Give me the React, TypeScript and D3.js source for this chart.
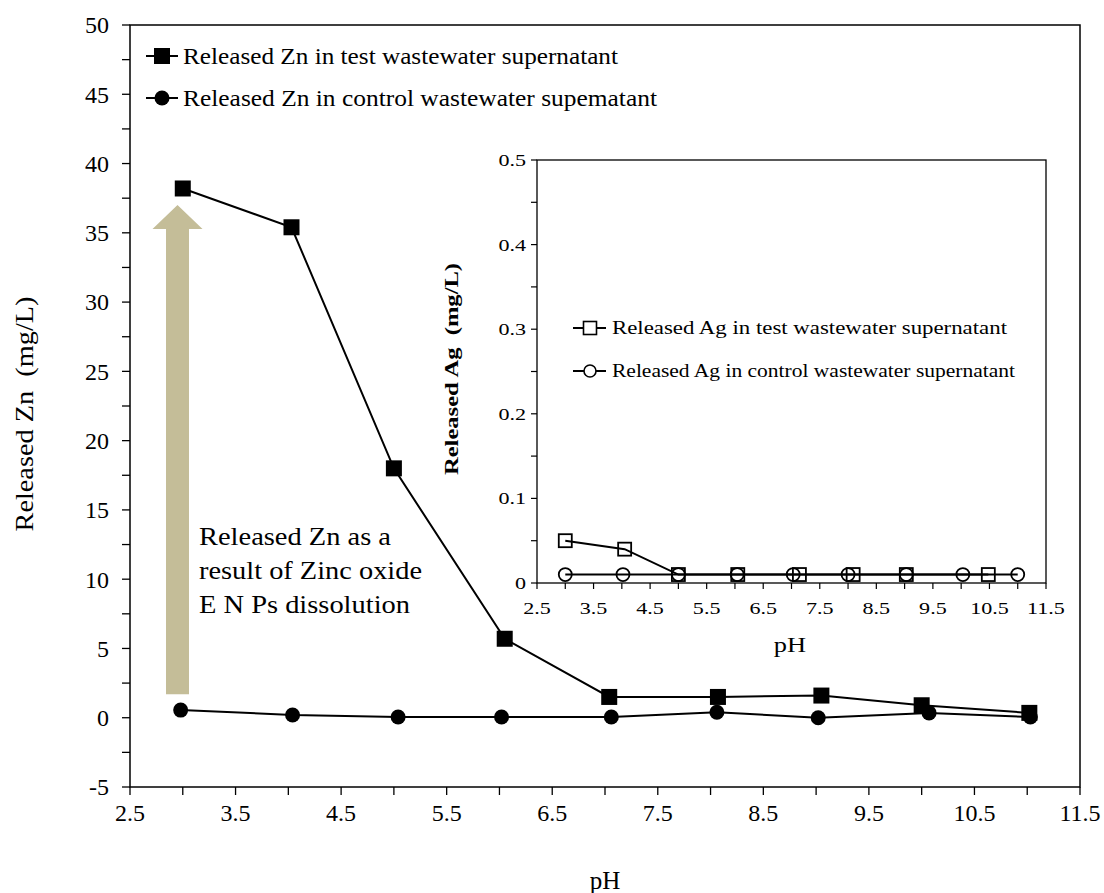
import React from "react";
import * as d3 from "d3";

// ---------- data ----------
const zincTestPH = [3.0, 4.03, 5.0, 6.05, 7.04, 8.07, 9.05, 10.0, 11.02];
const zincTest = [38.2, 35.4, 18.0, 5.7, 1.5, 1.5, 1.6, 0.9, 0.35];
const zincCtrlPH = [2.98, 4.04, 5.04, 6.02, 7.06, 8.06, 9.02, 10.07, 11.03];
const zincCtrl = [0.55, 0.2, 0.05, 0.05, 0.05, 0.4, 0.0, 0.35, 0.05];

const agTestPH = [3.0, 4.05, 5.0, 6.05, 7.14, 8.09, 9.03, 10.48];
const agTest = [0.05, 0.04, 0.01, 0.01, 0.01, 0.01, 0.01, 0.01];
const agCtrlPH = [3.0, 4.02, 5.0, 6.04, 7.03, 8.0, 9.03, 10.03, 11.0];
const agCtrl = [0.01, 0.01, 0.01, 0.01, 0.01, 0.01, 0.01, 0.01, 0.01];

const xTicks = [2.5, 3.5, 4.5, 5.5, 6.5, 7.5, 8.5, 9.5, 10.5, 11.5];
const zincYTicks = [-5, 0, 5, 10, 15, 20, 25, 30, 35, 40, 45, 50];
const agYTicks = [0, 0.1, 0.2, 0.3, 0.4, 0.5];

const legendMain = [
  "Released Zn in test wastewater supernatant",
  "Released Zn in control wastewater supematant",
];
const legendInset = [
  "Released Ag in test wastewater supernatant",
  "Released Ag in control wastewater supernatant",
];
const annotationLines = ["Released Zn as a", "result of Zinc oxide", "E N Ps dissolution"];
const arrowSpan = { ph: 2.95, from: 1.7, to: 37 };

const FONT = "'Liberation Serif', 'Times New Roman', serif";
const ARROW = "#c4bd98";

const legendMainW = [435, 474];
const legendInsetW = [395, 403];
const annotationW = [192, 223, 211];

export default function App() {
  // main plot
  const L = 130, R = 1080, T = 25, B = 787;
  const x = d3.scaleLinear().domain([2.5, 11.5]).range([L, R]);
  const y = d3.scaleLinear().domain([-5, 50]).range([B, T]);

  // inset
  const iL = 537, iR = 1046, iT = 160, iB = 583;
  const ix = d3.scaleLinear().domain([2.5, 11.5]).range([iL, iR]);
  const iy = d3.scaleLinear().domain([0, 0.5]).range([iB, iT]);

  const line = d3.line();
  const testPts: [number, number][] = zincTestPH.map((p, i) => [x(p), y(zincTest[i])]);
  const ctrlPts: [number, number][] = zincCtrlPH.map((p, i) => [x(p), y(zincCtrl[i])]);
  const agTestPts: [number, number][] = agTestPH.map((p, i) => [ix(p), iy(agTest[i])]);
  const agCtrlPts: [number, number][] = agCtrlPH.map((p, i) => [ix(p), iy(agCtrl[i])]);

  const minorY = d3.range(-5, 50.01, 2.5);
  const minorX = d3.range(2.5, 11.51, 0.5);
  const iMinorY = d3.range(0, 0.5001, 0.05);

  // arrow geometry from data scales
  const ax = x(arrowSpan.ph);
  const aBot = y(arrowSpan.from);
  const aTip = y(arrowSpan.to);
  const shaftHalf = 11.5;
  const headHalf = 25;
  const headLen = 24;
  const arrowPath = `M${ax - shaftHalf},${aBot} L${ax - shaftHalf},${aTip + headLen} L${ax - headHalf},${aTip + headLen} L${ax},${aTip} L${ax + headHalf},${aTip + headLen} L${ax + shaftHalf},${aTip + headLen} L${ax + shaftHalf},${aBot} Z`;

  const SQ = 16;
  const iSQ = 13;

  return (
    <svg width={1104} height={893} style={{ display: "block", position: "absolute", left: 0, top: 0, background: "#fff" }} fontFamily={FONT}>
      <rect x={0} y={0} width={1104} height={893} fill="#fff" />
      {/* main frame */}
      <rect x={L} y={T} width={R - L} height={B - T} fill="none" stroke="#000" strokeWidth={1.5} />
      {/* y ticks */}
      {minorY.map((v) => (
        <line key={"my" + v} x1={L - 8} x2={L} y1={y(v)} y2={y(v)} stroke="#000" strokeWidth={1.3} />
      ))}
      {zincYTicks.map((v) => (
        <text key={"yt" + v} x={L - 21} y={y(v)} dy="0.35em" textAnchor="end" fontSize={24}>
          {v}
        </text>
      ))}
      {/* x ticks */}
      {minorX.map((v) => (
        <line key={"mx" + v} x1={x(v)} x2={x(v)} y1={B} y2={B + 8} stroke="#000" strokeWidth={1.3} />
      ))}
      {xTicks.map((v) => (
        <text key={"xt" + v} x={x(v)} y={B + 34} textAnchor="middle" fontSize={24}>
          {v.toFixed(1)}
        </text>
      ))}
      {/* axis titles */}
      <text x={605} y={889} textAnchor="middle" fontSize={25}>pH</text>
      <text transform={`translate(33,414) rotate(-90)`} textAnchor="middle" fontSize={25} xmlSpace="preserve" textLength={235} lengthAdjust="spacingAndGlyphs">
        Released Zn  (mg/L)
      </text>

      {/* arrow */}
      <path d={arrowPath} fill={ARROW} />
      {annotationLines.map((t, i) => (
        <text key={t} x={199} y={545 + i * 34} fontSize={25} textLength={annotationW[i]} lengthAdjust="spacingAndGlyphs">
          {t}
        </text>
      ))}

      {/* series */}
      <path d={line(testPts) || ""} fill="none" stroke="#000" strokeWidth={2} />
      <path d={line(ctrlPts) || ""} fill="none" stroke="#000" strokeWidth={2} />
      {testPts.map(([px, py], i) => (
        <rect key={"ts" + i} x={px - SQ / 2} y={py - SQ / 2} width={SQ} height={SQ} fill="#000" />
      ))}
      {ctrlPts.map(([px, py], i) => (
        <circle key={"cc" + i} cx={px} cy={py} r={7.5} fill="#000" />
      ))}

      {/* main legend */}
      {legendMain.map((t, i) => {
        const ly = 56 + i * 42;
        return (
          <g key={t}>
            <line x1={146} x2={178} y1={ly} y2={ly} stroke="#000" strokeWidth={2} />
            {i === 0 ? (
              <rect x={162 - SQ / 2} y={ly - SQ / 2} width={SQ} height={SQ} fill="#000" />
            ) : (
              <circle cx={162} cy={ly} r={7.5} fill="#000" />
            )}
            <text x={183} y={ly} dy="0.33em" fontSize={24} textLength={legendMainW[i]} lengthAdjust="spacingAndGlyphs">
              {t}
            </text>
          </g>
        );
      })}

      {/* inset */}
      <rect x={iL} y={iT} width={iR - iL} height={iB - iT} fill="#fff" stroke="#000" strokeWidth={1.3} />
      {iMinorY.map((v) => (
        <line key={"imy" + v} x1={iL - 6} x2={iL} y1={iy(v)} y2={iy(v)} stroke="#000" strokeWidth={1.2} />
      ))}
      {agYTicks.map((v) => (
        <text key={"iyt" + v} transform={`translate(${iL - 11},${iy(v)}) scale(1.3,1)`} dy="0.35em" textAnchor="end" fontSize={17}>
          {v}
        </text>
      ))}
      {minorX.map((v) => (
        <line key={"imx" + v} x1={ix(v)} x2={ix(v)} y1={iB} y2={iB + 6} stroke="#000" strokeWidth={1.2} />
      ))}
      {xTicks.map((v) => (
        <text key={"ixt" + v} transform={`translate(${ix(v)},${iB + 31}) scale(1.3,1)`} textAnchor="middle" fontSize={17}>
          {v.toFixed(1)}
        </text>
      ))}
      <text transform={`translate(790,652) scale(1.2,1)`} textAnchor="middle" fontSize={22}>pH</text>
      <text transform={`translate(458,369) rotate(-90)`} textAnchor="middle" fontSize={19} fontWeight="bold" xmlSpace="preserve" textLength={212} lengthAdjust="spacingAndGlyphs">
        Released Ag  (mg/L)
      </text>

      <path d={line(agTestPts) || ""} fill="none" stroke="#000" strokeWidth={2} />
      <path d={line(agCtrlPts) || ""} fill="none" stroke="#000" strokeWidth={2} />
      {agCtrlPts.map(([px, py], i) => (
        <circle key={"ac" + i} cx={px} cy={py} r={6.5} fill="none" stroke="#000" strokeWidth={1.8} />
      ))}
      {agTestPts.map(([px, py], i) => (
        <rect key={"as" + i} x={px - iSQ / 2} y={py - iSQ / 2} width={iSQ} height={iSQ} fill="none" stroke="#000" strokeWidth={1.8} />
      ))}

      {legendInset.map((t, i) => {
        const ly = 328 + i * 43;
        return (
          <g key={t}>
            <line x1={573} x2={606} y1={ly} y2={ly} stroke="#000" strokeWidth={2} />
            {i === 0 ? (
              <rect x={590 - iSQ / 2} y={ly - iSQ / 2} width={iSQ} height={iSQ} fill="#fff" stroke="#000" strokeWidth={1.6} />
            ) : (
              <circle cx={590} cy={ly} r={6} fill="#fff" stroke="#000" strokeWidth={1.6} />
            )}
            <text x={612} y={ly} dy="0.33em" fontSize={19} textLength={legendInsetW[i]} lengthAdjust="spacingAndGlyphs">
              {t}
            </text>
          </g>
        );
      })}
    </svg>
  );
}
